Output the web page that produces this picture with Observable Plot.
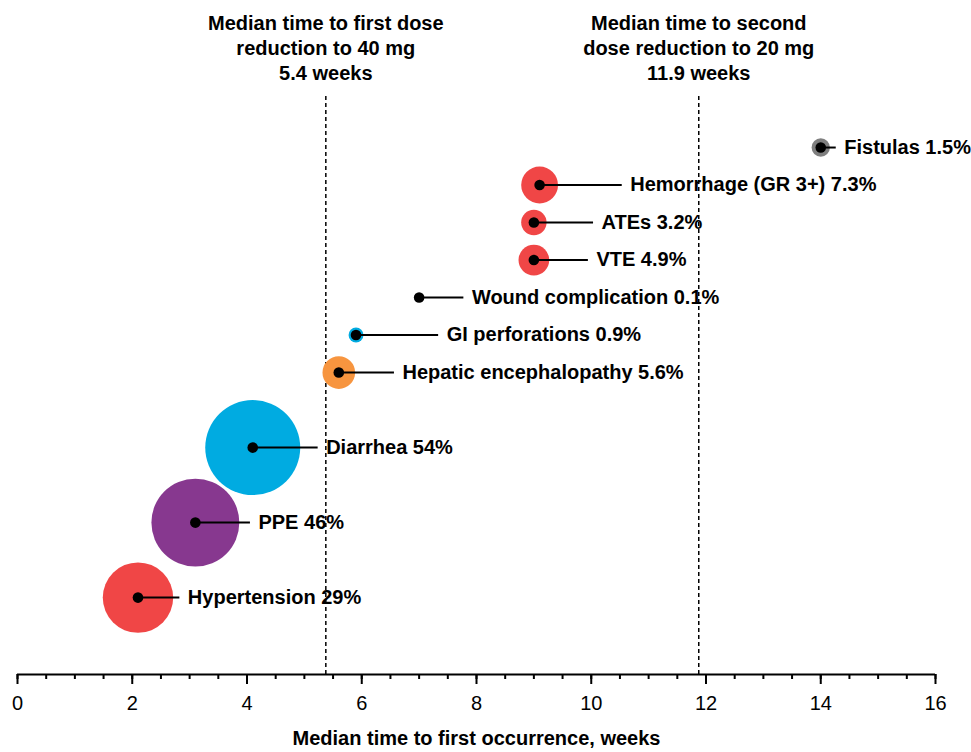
<!DOCTYPE html>
<html>
<head>
<meta charset="utf-8">
<script src="https://cdn.jsdelivr.net/npm/d3@7"></script>
<script src="https://cdn.jsdelivr.net/npm/@observablehq/plot@0.6"></script>
<style>
  html, body { margin: 0; padding: 0; background: #fff; }
  #chart svg { display: block; }
</style>
</head>
<body>
<div id="chart"></div>
<script>
// Adverse events: name, incidence (%), median time to first occurrence (weeks)
const events = ["Fistulas", "Hemorrhage (GR 3+)", "ATEs", "VTE", "Wound complication",
  "GI perforations", "Hepatic encephalopathy", "Diarrhea", "PPE", "Hypertension"];
const incidence = [1.5, 7.3, 3.2, 4.9, 0.1, 0.9, 5.6, 54, 46, 29];
const weeks = [14.0, 9.1, 9.0, 9.0, 7.0, 5.9, 5.6, 4.1, 3.1, 2.1];
const rowPos = [13, 12, 11, 10, 9, 8, 7, 5, 3, 1];
const labelAt = [14.27, 10.54, 10.04, 9.95, 7.78, 7.34, 6.57, 5.24, 4.06, 2.83];
const bubbleColor = ["#7f7f7f", "#f04646", "#f04646", "#f04646", "#7f7f7f",
  "#00abe1", "#f7953f", "#00abe1", "#87388f", "#f04646"];

// Dose-reduction reference lines
const refWeeks = [5.4, 11.9];
const refText = [
  "Median time to first dose\nreduction to 40 mg\n5.4 weeks",
  "Median time to second\ndose reduction to 20 mg\n11.9 weeks"
];

const xTicks = [0, 2, 4, 6, 8, 10, 12, 14, 16];
const xMinorTicks = d3.range(0, 16.01, 0.5);
const xLabel = "Median time to first occurrence, weeks";

const data = events.map((name, i) => ({
  name, pct: incidence[i], week: weeks[i], row: rowPos[i], end: labelAt[i],
  color: bubbleColor[i], label: `${name} ${incidence[i]}%`
}));
const refs = refWeeks.map((w, i) => ({ w, text: refText[i] }));

const yMin = -1.05, yMax = 16.92;

const chart = Plot.plot({
  width: 971,
  height: 752,
  marginLeft: 17,
  marginRight: 36,
  marginTop: 0,
  marginBottom: 78,
  style: { fontFamily: "Arial, 'Liberation Sans', sans-serif", fontSize: "20px", color: "#000", background: "#fff" },
  x: { domain: [0, 16] },
  y: { domain: [yMin, yMax], axis: null },
  r: { type: "sqrt", domain: [0, 54], range: [1.5, 47.5] },
  marks: [
    Plot.ruleX(refs, { x: "w", y1: yMin, y2: 14.4, stroke: "#000", strokeWidth: 1.5, strokeDasharray: "4,3", dx: -1.5 }),
    Plot.text(refs, { x: "w", y: 15.667, text: "text", fontWeight: "bold", fontSize: 20, lineHeight: 1.25, textAnchor: "middle", fill: "#000", dx: -1.5 }),
    Plot.dot(data, { x: "week", y: "row", r: "pct", fill: "color", stroke: "none" }),
    Plot.ruleY(data, { y: "row", x1: "week", x2: "end", stroke: "#000", strokeWidth: 2 }),
    Plot.dot(data, { x: "week", y: "row", r: 5.3, fill: "#000", stroke: "none" }),
    Plot.text(data, { x: "end", y: "row", text: "label", dx: 8, textAnchor: "start", fontWeight: "bold", fontSize: 20, fill: "#000" }),
    Plot.ruleY([yMin], { stroke: "#000", strokeWidth: 2 }),
    Plot.axisX(xMinorTicks, { tickSize: 5, tickFormat: () => "", strokeWidth: 2, label: null }),
    Plot.axisX(xTicks, { tickSize: 10, tickPadding: 11, fontSize: 20, strokeWidth: 2, label: null }),
    Plot.text([xLabel], { frameAnchor: "bottom", lineAnchor: "middle", dy: 64, text: d => d, fontWeight: "bold", fontSize: 20, fill: "#000" })
  ]
});
document.getElementById("chart").appendChild(chart);
</script>
</body>
</html>
